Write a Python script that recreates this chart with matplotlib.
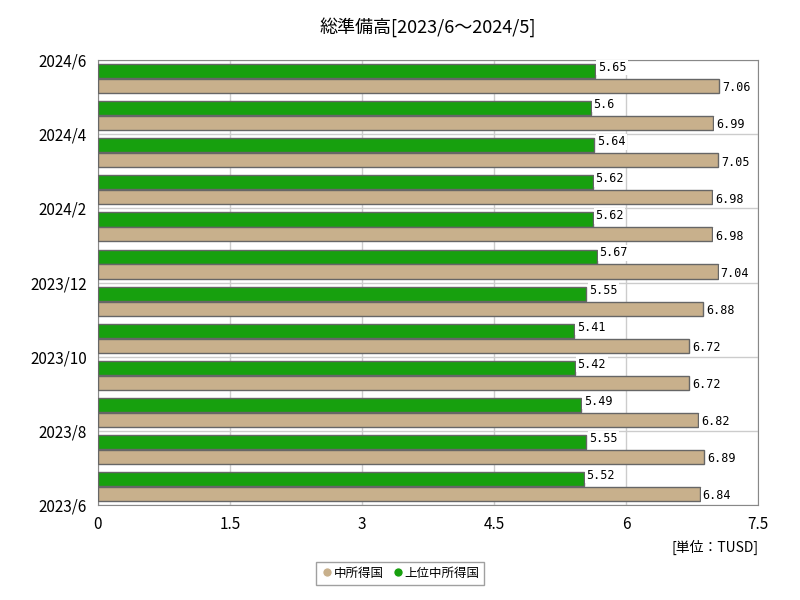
import matplotlib
matplotlib.use("Agg")
import matplotlib.pyplot as plt
import numpy as np

plt.rcParams["font.family"] = ["Noto Sans CJK JP", "DejaVu Sans"]

# data, 2023/6 .. 2024/5 (bottom to top)
months = ["2023/6", "2023/7", "2023/8", "2023/9", "2023/10", "2023/11",
          "2023/12", "2024/1", "2024/2", "2024/3", "2024/4", "2024/5"]
upper_mid = [5.52, 5.55, 5.49, 5.42, 5.41, 5.55, 5.67, 5.62, 5.62, 5.64, 5.6, 5.65]
mid = [6.84, 6.89, 6.82, 6.72, 6.72, 6.88, 7.04, 6.98, 6.98, 7.05, 6.99, 7.06]
tick_labels = ["2023/6", "2023/8", "2023/10", "2023/12", "2024/2", "2024/4", "2024/6"]

green = "#17a00e"
tan = "#c8b08c"

fig = plt.figure(figsize=(8, 6), dpi=100)
ax = fig.add_axes([0.1225, 0.158, 0.825, 0.742])

y = np.arange(len(months))
h = 0.38
ax.barh(y + 0.2, upper_mid, height=h, color=green, edgecolor="#666666", linewidth=1, zorder=3)
ax.barh(y - 0.2, mid, height=h, color=tan, edgecolor="#666666", linewidth=1, zorder=3)

box = dict(facecolor="white", edgecolor="none", pad=1)
for yi, v in zip(y, upper_mid):
    ax.text(v + 0.03, yi + 0.3, f"{v:g}", fontsize=8.5, family="DejaVu Sans Mono",
            va="center", ha="left", bbox=box, zorder=4)
for yi, v in zip(y, mid):
    ax.text(v + 0.03, yi - 0.25, f"{v:g}", fontsize=8.5, family="DejaVu Sans Mono",
            va="center", ha="left", bbox=box, zorder=4)

ax.set_xlim(0, 7.5)
ax.set_ylim(-0.5, 11.5)
ax.set_xticks(np.arange(0, 7.6, 1.5))
ax.set_xticklabels(["0", "1.5", "3", "4.5", "6", "7.5"], fontsize=11)
ax.set_yticks(np.arange(-0.5, 12, 2))
ax.set_yticklabels(tick_labels, fontsize=11)
ax.tick_params(length=0, pad=8)
ax.grid(True, color="#cccccc", linewidth=1, zorder=0)
for s in ax.spines.values():
    s.set_color("#888888")

fig.text(0.535, 0.955, "総準備高[2023/6～2024/5]", ha="center", va="center", fontsize=13)
fig.text(0.948, 0.087, "[単位：TUSD]", ha="right", va="center", fontsize=10)

from matplotlib.lines import Line2D
handles = [Line2D([], [], marker="o", color="w", markerfacecolor=tan, markersize=7, label="中所得国"),
           Line2D([], [], marker="o", color="w", markerfacecolor=green, markersize=7, label="上位中所得国")]
leg = fig.legend(handles=handles, loc="center", bbox_to_anchor=(0.5, 0.045), ncol=2,
                 fontsize=9, handletextpad=0.05, columnspacing=0.6, handlelength=1,
                 fancybox=False, edgecolor="#888888")

fig.savefig("out.png")
